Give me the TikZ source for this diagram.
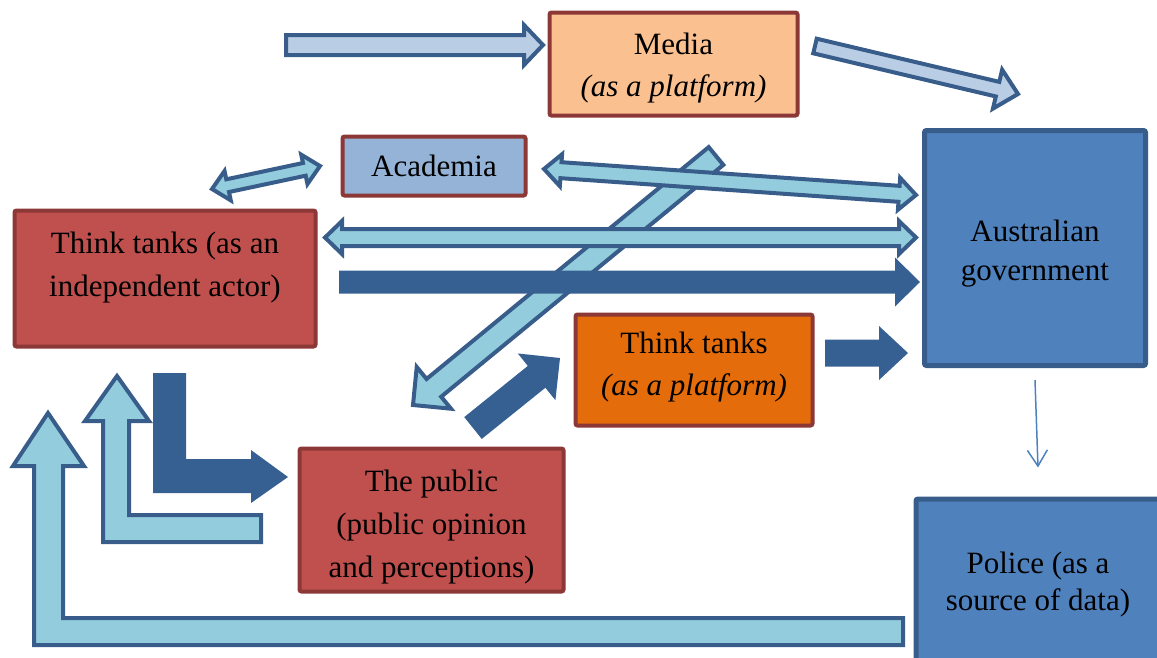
\documentclass[tikz,border=0pt]{standalone}
\usepackage{fontspec}
\setmainfont{Liberation Serif}
\usetikzlibrary{calc,arrows.meta}

\definecolor{tankred}{HTML}{C0504D}
\definecolor{rimred}{HTML}{8C3836}
\definecolor{mediafill}{HTML}{FAC090}
\definecolor{acadfill}{HTML}{95B3D7}
\definecolor{platfill}{HTML}{E46C0A}
\definecolor{govfill}{HTML}{4F81BD}
\definecolor{govrim}{HTML}{385D8A}
\definecolor{aqua}{HTML}{93CDDD}
\definecolor{paleblue}{HTML}{B9CDE5}
\definecolor{deep}{HTML}{376092}

% block arrow: [style]{tail}{tip}{half shaft}{half head}{head length}
\newcommand\blockarrow[6][]{%
  \draw[#1] let \p1=($(#3)-(#2)$), \n1={atan2(\y1,\x1)}, \n2={veclen(\x1,\y1)-#6} in
    ($(#2)+(\n1+90:#4)$) -- ($(#2)+(\n1:\n2)+(\n1+90:#4)$)
    -- ($(#2)+(\n1:\n2)+(\n1+90:#5)$) -- (#3)
    -- ($(#2)+(\n1:\n2)+(\n1-90:#5)$) -- ($(#2)+(\n1:\n2)+(\n1-90:#4)$)
    -- ($(#2)+(\n1-90:#4)$) -- cycle;}
% same with a head at both ends
\newcommand\twowayarrow[6][]{%
  \draw[#1] let \p1=($(#3)-(#2)$), \n1={atan2(\y1,\x1)}, \n2={veclen(\x1,\y1)-#6} in
    (#2) -- ($(#2)+(\n1:#6)+(\n1+90:#5)$) -- ($(#2)+(\n1:#6)+(\n1+90:#4)$)
    -- ($(#2)+(\n1:\n2)+(\n1+90:#4)$) -- ($(#2)+(\n1:\n2)+(\n1+90:#5)$) -- (#3)
    -- ($(#2)+(\n1:\n2)+(\n1-90:#5)$) -- ($(#2)+(\n1:\n2)+(\n1-90:#4)$)
    -- ($(#2)+(\n1:#6)+(\n1-90:#4)$) -- ($(#2)+(\n1:#6)+(\n1-90:#5)$) -- cycle;}

\begin{document}
\begin{tikzpicture}[x=1pt, y=-1pt,
    boxtext/.style={align=center, font=\fontsize{31}{43}\selectfont},
    box/.style={boxtext, draw=rimred, line width=4pt, rounded corners=2pt, inner sep=0pt},
    tankbox/.style={box, fill=tankred},
    govbox/.style={box, fill=govfill, draw=govrim, line width=5pt},
    light/.style={draw=govrim, line width=4pt, fill=aqua},
    palearrow/.style={draw=govrim, line width=4pt, fill=paleblue},
    heavy/.style={fill=deep, draw=none}]

  \useasboundingbox (0,0) rectangle (1157,657);
  \clip (0,0) rectangle (1157,657);

  %% actors
  \node[box, fill=mediafill, minimum width=248, minimum height=103,
        label={[boxtext, font=\fontsize{31}{42}\selectfont, yshift=-4pt]center:Media\\\textit{(as a platform)}}] (media) at (673.5,64) {};
  \node[box, fill=acadfill, minimum width=183, minimum height=59] (academia) at (434,166) {Academia};
  \node[tankbox, minimum width=301, minimum height=136,
        label={[boxtext, yshift=11pt]center:Think tanks (as an\\independent actor)}] (actor) at (165,278.5) {};
  \node[box, fill=platfill, minimum width=237, minimum height=111,
        label={[boxtext, font=\fontsize{31}{42}\selectfont, yshift=3pt]center:Think tanks\\\textit{(as a platform)}}] (platform) at (694,370) {};
  \node[tankbox, minimum width=264, minimum height=143,
        label={[boxtext, yshift=-7pt]center:The public\\(public opinion\\and perceptions)}] (public) at (431.5,520) {};
  \node[govbox, minimum width=221, minimum height=235,
        label={[boxtext, font=\fontsize{31}{39}\selectfont, yshift=-6pt]center:Australian\\government}] (gov) at (1035,248) {};
  \node[govbox, minimum width=244, minimum height=166,
        label={[boxtext, font=\fontsize{31}{37}\selectfont, yshift=-3pt]center:Police (as a\\source of data)}] (police) at (1038,582) {};

  %% arrow ends
  \coordinate (feed) at (286,45);     \coordinate (feed-in) at (543,45);
  \coordinate (press) at (815,46);    \coordinate (press-in) at (1018,94);
  \coordinate (debate) at (716,156);  \coordinate (debate-in) at (413,405);
  \coordinate (ac-l) at (212,189);    \coordinate (ac-r) at (320,166);
  \coordinate (ag-l) at (544,169);    \coordinate (ag-r) at (916,195);
  \coordinate (tg-l) at (325,237.5);  \coordinate (tg-r) at (916,237.5);
  \coordinate (lobby) at (339,282);   \coordinate (lobby-in) at (920,282);
  \coordinate (voice) at (473,428);   \coordinate (voice-in) at (560,358);
  \coordinate (host) at (825,353);    \coordinate (host-in) at (908,353);

  %% block arrows
  \blockarrow[light]{debate}{debate-in}{11.5pt}{27pt}{27pt}
  \blockarrow[palearrow]{feed}{feed-in}{10pt}{20pt}{19pt}
  \blockarrow[palearrow]{press}{press-in}{7.5pt}{20pt}{21pt}
  \twowayarrow[light]{ac-l}{ac-r}{6.5pt}{15pt}{16pt}
  \twowayarrow[light]{ag-l}{ag-r}{8pt}{16pt}{17pt}
  \twowayarrow[light]{tg-l}{tg-r}{8.5pt}{16.5pt}{17pt}
  \blockarrow[heavy]{lobby}{lobby-in}{11.5pt}{24.5pt}{25pt}
  \blockarrow[heavy]{voice}{voice-in}{14pt}{30pt}{30pt}
  \blockarrow[heavy]{host}{host-in}{13.5pt}{27pt}{29pt}

  %% bent arrows back to the think tanks
  \fill[deep] (153,373) -- (186,373) -- (186,459) -- (251,459) -- (251,450) -- (288,477)
    -- (251,503) -- (251,493) -- (153,493) -- cycle;
  \draw[light] (117,376) -- (149,421) -- (129,421) -- (129,515) -- (261,515) -- (261,542)
    -- (103,542) -- (103,421) -- (85,421) -- cycle;
  \draw[light] (48,413) -- (84,466) -- (63,466) -- (63,618) -- (903,618) -- (903,645)
    -- (34,645) -- (34,466) -- (13,466) -- cycle;

  \draw[govfill, line width=1.5pt, -{Straight Barb[length=16pt, width=20pt]}]
    ([yshift=-12pt]gov.south) -- ([yshift=29pt]police.north);
\end{tikzpicture}
\end{document}
